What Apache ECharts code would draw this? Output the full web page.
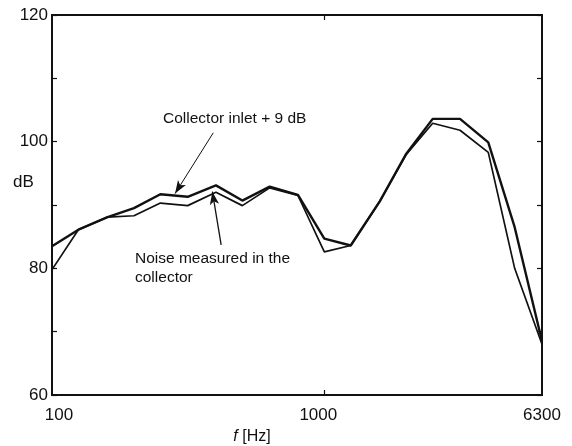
<!DOCTYPE html>
<html>
<head>
<meta charset="utf-8">
<script src="https://cdn.jsdelivr.net/npm/echarts@6/dist/echarts.min.js"></script>
<style>
  html, body { margin: 0; padding: 0; background: #fff; }
  #chart { width: 572px; height: 446px; }
</style>
</head>
<body>
<div id="chart"></div>
<script>
// third-octave band centres, Hz
const freqs = [100, 125, 160, 200, 250, 315, 400, 500, 630, 800, 1000, 1250, 1600, 2000, 2500, 3150, 4000, 5000, 6300]
// collector inlet + 9 dB
const inletPlus9 = [83.5, 86.1, 88.1, 89.5, 91.7, 91.3, 93.1, 90.7, 92.9, 91.6, 84.7, 83.6, 90.6, 98.1, 103.6, 103.6, 99.9, 86.5, 68.5]
// noise measured in the collector
const collectorNoise = [79.8, 86.1, 88.1, 88.3, 90.3, 89.9, 92.0, 89.9, 92.7, 91.5, 82.6, 83.6, 90.6, 98.0, 102.9, 101.8, 98.3, 80.0, 68.0]
const xTickLabels = [100, 1000, 6300]
const yTickLabels = [60, 80, 100, 120]

const font = 'Liberation Sans, Arial, sans-serif'
const ink = '#111'
const myChart = echarts.init(document.getElementById('chart'))

const pairs = (ys) => freqs.map((f, i) => [f, ys[i]])

const arrowLine = (from, to) => [
    { coord: from, symbol: 'none' },
    { coord: to, symbol: 'arrow', symbolSize: [7, 13] }
]

let option = {
    backgroundColor: '#fff',
    animation: false,
    grid: {
        left: 52, right: 30, top: 15, bottom: 51,
        containLabel: false, outerBoundsMode: 'none',
        show: true, borderColor: ink, borderWidth: 1.8, backgroundColor: 'transparent'
    },
    xAxis: [
        {
            type: 'log', logBase: 10, min: 100, max: 6300,
            name: '{i|f} [Hz]', nameLocation: 'middle', nameGap: 32,
            nameTextStyle: {
                color: ink, fontFamily: font, fontSize: 16, padding: [0, 90, 0, 0],
                rich: { i: { fontStyle: 'italic', fontFamily: font, fontSize: 16, color: ink } }
            },
            axisLine: { show: true, lineStyle: { color: ink, width: 1.8 } },
            axisTick: { show: true, inside: true, length: 5, customValues: [1000], lineStyle: { color: ink, width: 1.2 } },
            axisLabel: {
                customValues: xTickLabels, color: ink, fontFamily: font, fontSize: 17, margin: 12,
                formatter: (v) => v === 100 ? '{a|100}' : (v === 1000 ? '{b|1000}' : String(v)),
                rich: {
                    a: { padding: [0, 0, 0, 14], fontFamily: font, fontSize: 17, color: ink },
                    b: { padding: [0, 12, 0, 0], fontFamily: font, fontSize: 17, color: ink }
                }
            },
            splitLine: { show: false }
        },
        {
            type: 'log', logBase: 10, min: 100, max: 6300, position: 'top',
            axisLine: { show: true, lineStyle: { color: ink, width: 1.8 } },
            axisTick: { show: true, inside: true, length: 5, customValues: [1000], lineStyle: { color: ink, width: 1.2 } },
            axisLabel: { show: false },
            splitLine: { show: false }
        }
    ],
    yAxis: [
        {
            type: 'value', min: 60, max: 120, interval: 10,
            axisLine: { show: true, lineStyle: { color: ink, width: 1.8 } },
            axisTick: { show: true, inside: true, length: 5, lineStyle: { color: ink, width: 1.2 } },
            axisLabel: {
                color: ink, fontFamily: font, fontSize: 17, margin: 4,
                formatter: (v) => yTickLabels.includes(v) ? String(v) : ''
            },
            splitLine: { show: false }
        },
        {
            type: 'value', min: 60, max: 120, interval: 10, position: 'right',
            axisLine: { show: true, lineStyle: { color: ink, width: 1.8 } },
            axisTick: { show: true, inside: true, length: 5, lineStyle: { color: ink, width: 1.2 } },
            axisLabel: { show: false },
            splitLine: { show: false }
        }
    ],
    series: [
        {
            name: 'Collector inlet + 9 dB',
            type: 'line',
            data: pairs(inletPlus9),
            showSymbol: false,
            lineStyle: { color: ink, width: 2.4 },
            markLine: {
                silent: true,
                lineStyle: { color: ink, width: 1, type: 'solid' },
                label: { show: false },
                data: [arrowLine([391, 101.4], [283, 91.8])]
            }
        },
        {
            name: 'Noise measured in the collector',
            type: 'line',
            data: pairs(collectorNoise),
            showSymbol: false,
            lineStyle: { color: ink, width: 1.7 },
            markLine: {
                silent: true,
                lineStyle: { color: ink, width: 1.3, type: 'solid' },
                label: { show: false },
                data: [arrowLine([418, 83.7], [388, 92.1])]
            }
        }
    ],
    graphic: [
        // y axis unit
        { type: 'text', left: 13, top: 174, style: { text: 'dB', fill: ink, font: '17px ' + font } },
        { type: 'text', left: 163, top: 111, style: { text: 'Collector inlet + 9 dB', fill: ink, font: '15.5px ' + font } },
        { type: 'text', left: 135, top: 249, style: { text: 'Noise measured in the\ncollector', fill: ink, font: '15.5px ' + font, lineHeight: 19 } }
    ]
}

option && myChart.setOption(option)
</script>
</body>
</html>
